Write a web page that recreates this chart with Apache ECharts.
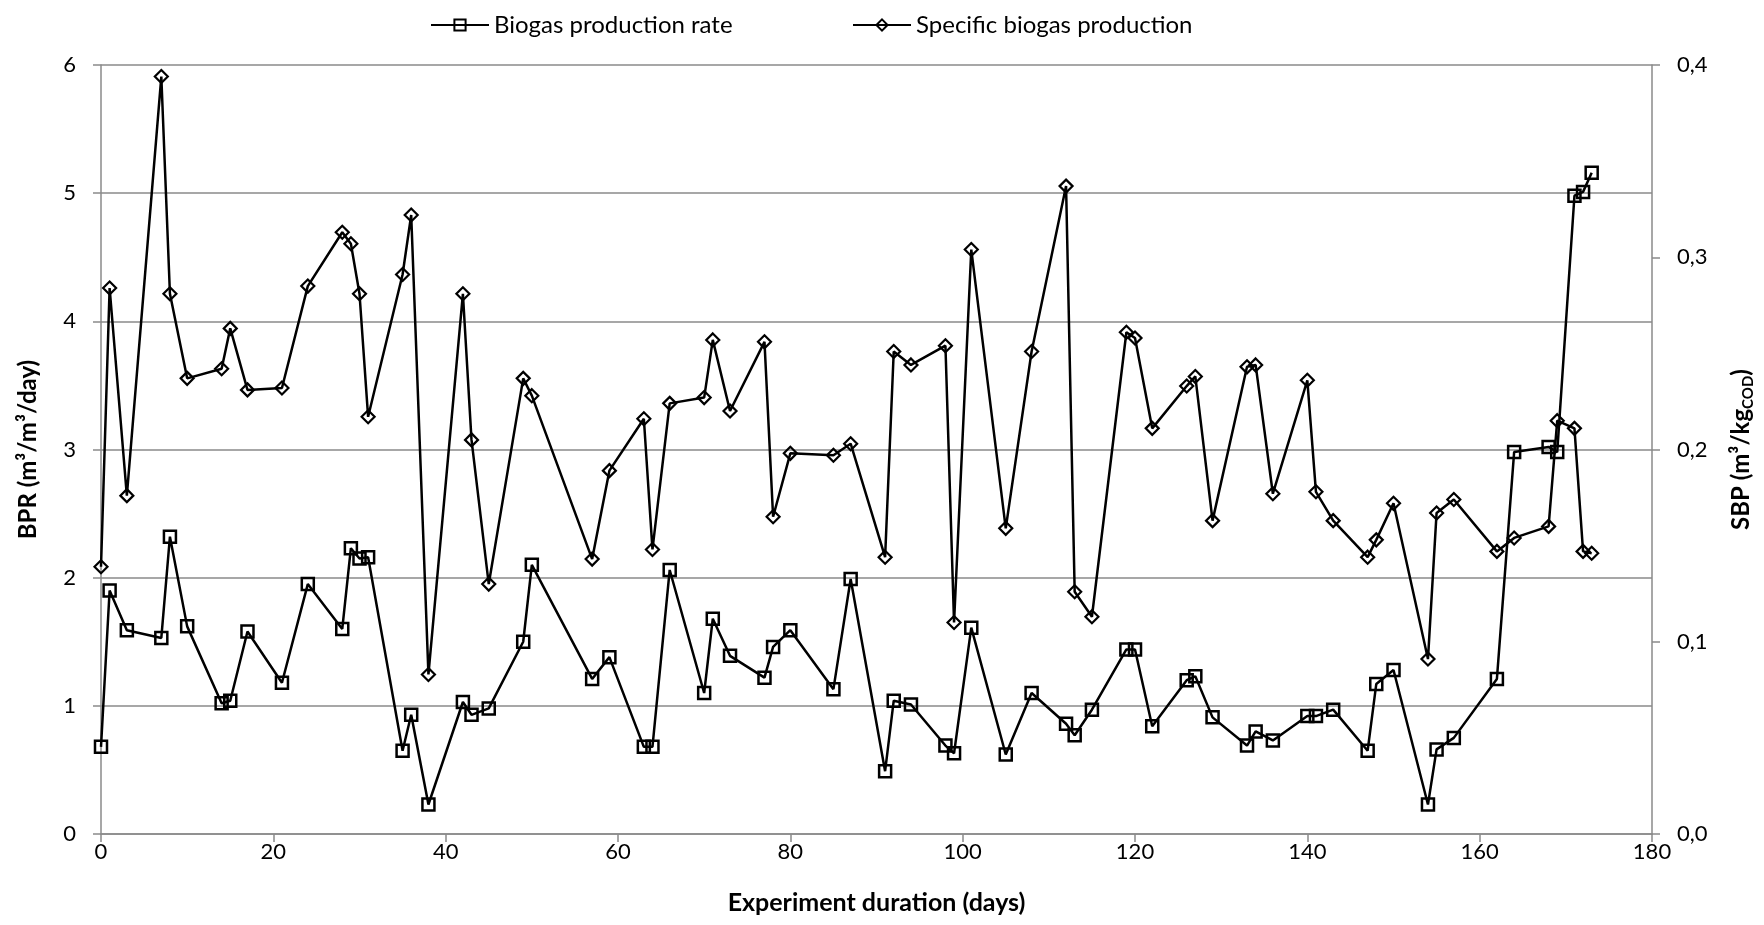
<!DOCTYPE html>
<html>
<head>
<meta charset="utf-8">
<script src="https://cdn.jsdelivr.net/npm/echarts@6/dist/echarts.min.js"></script>
<style>
  html, body { margin: 0; padding: 0; background: #fff; }
  #chart { width: 1764px; height: 925px; }
</style>
</head>
<body>
<div id="chart"></div>
<script>
// Sampling days of the experiment
const days = [0, 1, 3, 7, 8, 10, 14, 15, 17, 21, 24, 28, 29, 30, 31, 35, 36, 38, 42, 43, 45, 49, 50,
  57, 59, 63, 64, 66, 70, 71, 73, 77, 78, 80, 85, 87, 91, 92, 94, 98, 99, 101, 105, 108,
  112, 113, 115, 119, 120, 122, 126, 127, 129, 133, 134, 136, 140, 141, 143, 147, 148, 150,
  154, 155, 157, 162, 164, 168, 169, 171, 172, 173];

// Biogas production rate, m3/m3/day (left axis)
const bpr = [0.68, 1.90, 1.59, 1.53, 2.32, 1.62, 1.02, 1.04, 1.58, 1.18, 1.95, 1.60, 2.23, 2.15, 2.16,
  0.65, 0.93, 0.23, 1.03, 0.93, 0.98, 1.50, 2.10, 1.21, 1.38, 0.68, 0.68, 2.06, 1.10, 1.68, 1.39,
  1.22, 1.46, 1.59, 1.13, 1.99, 0.49, 1.04, 1.01, 0.69, 0.63, 1.61, 0.62, 1.10, 0.86, 0.77, 0.97,
  1.44, 1.44, 0.84, 1.20, 1.23, 0.91, 0.69, 0.80, 0.73, 0.92, 0.92, 0.97, 0.65, 1.17, 1.28,
  0.23, 0.66, 0.75, 1.21, 2.98, 3.02, 2.98, 4.98, 5.01, 5.16];

// Specific biogas production, m3/kg COD (right axis)
const sbp = [0.139, 0.284, 0.176, 0.394, 0.281, 0.237, 0.242, 0.263, 0.231, 0.232, 0.285, 0.313, 0.307,
  0.281, 0.217, 0.291, 0.322, 0.083, 0.281, 0.205, 0.130, 0.237, 0.228, 0.143, 0.189, 0.216,
  0.148, 0.224, 0.227, 0.257, 0.220, 0.256, 0.165, 0.198, 0.197, 0.203, 0.144, 0.251, 0.244,
  0.254, 0.110, 0.304, 0.159, 0.251, 0.337, 0.126, 0.113, 0.261, 0.258, 0.211, 0.233, 0.238,
  0.163, 0.243, 0.244, 0.177, 0.236, 0.178, 0.163, 0.144, 0.153, 0.172, 0.091, 0.167, 0.174,
  0.147, 0.154, 0.160, 0.215, 0.211, 0.147, 0.146];

const seriesNames = ['Biogas production rate', 'Specific biogas production'];

const FONT = 'Lato';
const GRID_GRAY = '#8a8a8a';
const TICK_SIZE = 22;

const legendBase = {
  top: 8,
  itemWidth: 58,
  itemHeight: 14,
  textStyle: { fontFamily: FONT, fontSize: 24, color: '#000' }
};

const chart = echarts.init(document.getElementById('chart'), null, { renderer: 'canvas' });

chart.setOption({
  animation: false,
  backgroundColor: '#ffffff',
  textStyle: { fontFamily: FONT, color: '#000' },
  legend: [
    Object.assign({ data: [seriesNames[0]], left: 425 }, legendBase),
    Object.assign({ data: [seriesNames[1]], left: 847 }, legendBase)
  ],
  grid: { left: 101, right: 112, top: 65, bottom: 91, containLabel: false },
  xAxis: {
    type: 'value',
    min: 0,
    max: 180,
    interval: 20,
    name: 'Experiment duration (days)',
    nameLocation: 'middle',
    nameGap: 56,
    nameTextStyle: { fontFamily: FONT, fontSize: 25, fontWeight: 'bold', color: '#000' },
    axisLine: { show: true, onZero: false, lineStyle: { color: GRID_GRAY, width: 1.5 } },
    axisTick: { show: true, length: 8, lineStyle: { color: GRID_GRAY, width: 1.5 } },
    axisLabel: { fontFamily: FONT, fontSize: TICK_SIZE, color: '#000', margin: 7 },
    splitLine: { show: false }
  },
  yAxis: [
    {
      type: 'value',
      min: 0,
      max: 6,
      interval: 1,
      position: 'left',
      name: 'BPR (m³/m³/day)',
      nameLocation: 'middle',
      nameRotate: 90,
      nameGap: 61,
      nameTextStyle: { fontFamily: FONT, fontSize: 24, fontWeight: 'bold', color: '#000' },
      axisLine: { show: true, lineStyle: { color: GRID_GRAY, width: 1.5 } },
      axisTick: { show: true, length: 8, lineStyle: { color: GRID_GRAY, width: 1.5 } },
      axisLabel: { fontFamily: FONT, fontSize: TICK_SIZE, color: '#000', margin: 25 },
      splitLine: { show: true, lineStyle: { color: GRID_GRAY, width: 1.5 } }
    },
    {
      type: 'value',
      min: 0,
      max: 0.4,
      interval: 0.1,
      position: 'right',
      name: '{b|SBP (m³/kg}{s|COD}{b|)}',
      nameLocation: 'middle',
      nameRotate: 90,
      nameGap: 74,
      nameTextStyle: {
        rich: {
          b: { fontFamily: FONT, fontSize: 24, fontWeight: 'bold', color: '#000', lineHeight: 30 },
          s: { fontFamily: FONT, fontSize: 15, fontWeight: 'bold', color: '#000', lineHeight: 30, verticalAlign: 'bottom' }
        }
      },
      axisLine: { show: true, lineStyle: { color: GRID_GRAY, width: 1.5 } },
      axisTick: { show: true, length: 8, lineStyle: { color: GRID_GRAY, width: 1.5 } },
      axisLabel: {
        fontFamily: FONT, fontSize: TICK_SIZE, color: '#000', margin: 25,
        formatter: v => v.toFixed(1).replace('.', ',')
      },
      splitLine: { show: false }
    }
  ],
  series: [
    {
      name: seriesNames[0],
      type: 'line',
      yAxisIndex: 0,
      data: days.map((d, i) => [d, bpr[i]]),
      symbol: 'rect',
      symbolSize: 12,
      showAllSymbol: true,
      lineStyle: { color: '#000', width: 2.5 },
      itemStyle: { color: 'rgba(255,255,255,0)', borderColor: '#000', borderWidth: 2.5 },
      z: 3
    },
    {
      name: seriesNames[1],
      type: 'line',
      yAxisIndex: 1,
      data: days.map((d, i) => [d, sbp[i]]),
      symbol: 'diamond',
      symbolSize: 13,
      showAllSymbol: true,
      lineStyle: { color: '#000', width: 2.5 },
      itemStyle: { color: 'rgba(255,255,255,0)', borderColor: '#000', borderWidth: 2.2 },
      z: 3
    }
  ]
});
</script>
</body>
</html>
